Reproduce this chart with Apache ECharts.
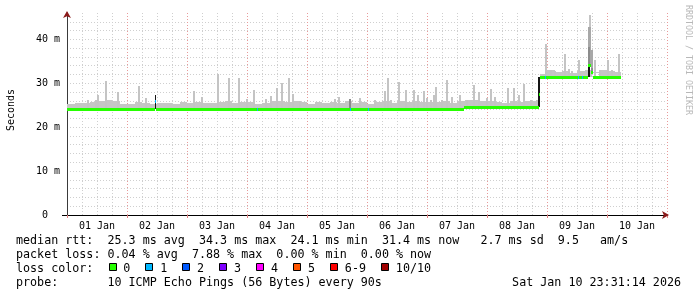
<!DOCTYPE html>
<html><head><meta charset="utf-8">
<script src="https://cdn.jsdelivr.net/npm/echarts@6/dist/echarts.min.js"></script>
<style>html,body{margin:0;padding:0;background:#fff}#c{width:697px;height:297px}</style>
</head><body><div id="c"></div>
<script>
// ---------- data (time in hours since 01 Jan 00:00) ----------
const dayLabels = ['01 Jan','02 Jan','03 Jan','04 Jan','05 Jan','06 Jan','07 Jan','08 Jan','09 Jan','10 Jan'];
const dayLabelHours = [12,36,60,84,108,132,156,180,204,228];
const yTickValues = [0,10,20,30,40];
const yTickLabels = ['0  ','10 m','20 m','30 m','40 m'];

// median rtt (ms) segments: from medianHours[i] to medianHours[i+1]
const medianHours = [0,35.0,35.6,76.0,76.4,113.1,113.5,120.2,120.6,158.7,188.7,189.0,191.2,191.6,204.2,204.6,205.8,206.2,208.4,209.6,210.4,221.6];
const medianValues = [24.2,25.9,24.2,24.2,24.2,24.2,24.2,24.2,24.2,24.5,27.5,31.4,31.4,31.4,31.4,31.4,31.4,31.4,34.2,32.6,31.4];
const medianLoss = [0,1,0,1,0,1,0,1,0,0,0,0,1,0,1,0,1,0,0,0,0];

// low smoke (top of ping spread, ms) in 3 h steps
const baseSmokeStep = 3;
const baseSmokeTops = [
 25.2,25.5,25.6,25.8,25.9,26.1,25.9,25.3,25.3,25.7,
 25.6,25.3,25.4,25.6,25.3,25.7,25.5,25.7,25.4,25.6,
 25.8,25.9,25.6,25.8,25.8,25.3,25.6,26.0,25.9,25.7,
 25.9,25.8,25.3,25.7,25.4,25.8,25.6,25.9,25.4,25.7,
 25.3,25.7,26.0,25.6,25.9,25.7,25.9,25.8,25.7,25.7,
 26.0,25.6,25.9,26.1,26.2,25.9,25.9,25.7,25.6,26.0,
 25.8,25.9,26.0,32.2,33.1,32.6,32.7,32.4,32.8,33.0,
 32.5,33.0,32.7,32.6];

// max ping spikes (light smoke)
const spikeHours = [8.5,11.5,12.5,15.4,20.2,28.7,31.5,50.9,54.0,60.5,
 64.8,68.9,71.9,74.9,79.7,81.4,84.1,85.8,88.7,90.5,
 93.2,107.3,108.7,117.3,123.3,127.1,128.3,129.6,132.7,135.7,
 138.9,140.4,142.7,144.0,145.7,146.7,147.6,150.0,152.0,154.0,
 157.3,160.0,162.7,164.7,168.0,169.7,171.2,176.4,178.7,180.9,
 182.9,185.6,188.0,191.6,193.6,195.2,199.1,200.7,202.0,204.7,
 209.2,211.3,213.0,216.4,218.0,220.7];
const spikeTops = [26.1,26.1,27.4,30.5,28.0,29.3,26.7,28.3,26.9,32.1,
 31.2,31.2,26.4,28.4,26.4,27.0,29.0,30.1,31.2,27.6,
 25.9,26.4,26.9,26.7,26.1,28.2,31.2,26.1,30.2,28.4,
 28.4,27.4,28.2,26.6,26.1,27.4,29.2,26.3,30.7,26.9,
 27.3,26.3,29.5,28.0,26.6,28.7,26.9,29.0,29.0,27.3,
 29.8,26.3,26.2,39.0,33.0,32.8,36.7,33.3,32.7,35.2,
 45.6,35.2,33.0,35.2,33.0,36.7];

// denser smoke layers
const midSmokeHours = [208.9,209.9];
const midSmokeTops = [42.8,37.5];
const darkSmokeHours = [113.3,208.9,209.9];
const darkSmokeTops = [26.5,38.3,33.5];
const blackSmokeHours = [35.3,188.85,208.8];
const blackSmokeLows = [24.2,24.5,31.4];
const blackSmokeTops = [27.4,31.4,34.2];

const lossColors = ['#26ff00','#00b8ff','#0059ff','#7e00ff','#ff00ff','#ff5500','#ff0000','#a10000'];
const lossLabels = ['0','1','2','3','4','5','6-9','10/10'];

const legendRtt = 'median rtt:  25.3 ms avg  34.3 ms max  24.1 ms min  31.4 ms now   2.7 ms sd  9.5   am/s';
const legendLoss = 'packet loss: 0.04 % avg  7.88 % max  0.00 % min  0.00 % now';
const legendProbe = 'probe:       10 ICMP Echo Pings (56 Bytes) every 90s';
const legendDate = 'Sat Jan 10 23:31:14 2026';

// ---------- build ----------
const dataEnd = medianHours[medianHours.length-1];
function medianAt(h){
  for (let i=0;i<medianValues.length;i++){
    if (h>=medianHours[i] && h<medianHours[i+1]) return medianValues[i];
  }
  return medianValues[medianValues.length-1];
}
const baseData = baseSmokeTops.map((t,i)=>{const h0=i*baseSmokeStep;return [h0,Math.min(h0+baseSmokeStep,dataEnd),medianAt(h0),t];});
const spikeData = spikeHours.map((h,i)=>[h-0.4,h+0.4,medianAt(h),spikeTops[i]]);
const midData = midSmokeHours.map((h,i)=>[h-0.5,h+0.5,medianAt(h),midSmokeTops[i]]);
const darkData = darkSmokeHours.map((h,i)=>[h-0.4,h+0.4,medianAt(h),darkSmokeTops[i]]);
const blackData = blackSmokeHours.map((h,i)=>[h-0.3,h+0.3,blackSmokeLows[i],blackSmokeTops[i]]);
const medianData = medianValues.map((v,i)=>[medianHours[i],medianHours[i+1],v,medianLoss[i]]);

function rectSeries(data,color,z){
  return {type:'custom',data,z,silent:true,clip:true,animation:false,
    encode:{x:[0,1],y:[2,3]},
    renderItem(params,api){
      const a=api.coord([api.value(0),api.value(3)]);
      const b=api.coord([api.value(1),api.value(2)]);
      const x=Math.round(a[0]); const w=Math.max(1,Math.round(b[0])-x);
      const y=Math.round(a[1]); const h=Math.max(1,Math.round(b[1])-y);
      return {type:'rect',shape:{x,y,width:w,height:h},style:{fill:color}};
    }};
}
const medianSeries = {type:'custom',data:medianData,z:8,silent:true,clip:true,animation:false,
  encode:{x:[0,1],y:2},
  renderItem(params,api){
    const a=api.coord([api.value(0),api.value(2)]);
    const b=api.coord([api.value(1),api.value(2)]);
    const x=Math.round(a[0]); const w=Math.max(1,Math.round(b[0])-x);
    return {type:'rect',shape:{x,y:Math.round(a[1])-1,width:w,height:3},style:{fill:lossColors[api.value(3)]}};
  }};

const mono='DejaVu Sans Mono';
const minorLine={show:true,lineStyle:{color:'#cfcfcf',type:[1,2],width:1}};
const majorLine={show:true,lineStyle:{color:'#e89a9a',type:[1,2],width:1}};

const graphics=[];
graphics.push({type:'text',x:11,y:110,rotation:Math.PI/2,style:{text:'Seconds',font:'10px '+mono,fill:'#000',align:'center',verticalAlign:'middle'}});
graphics.push({type:'text',x:688,y:60,rotation:-Math.PI/2,style:{text:'RRDTOOL / TOBI OETIKER',font:'8.3px '+mono,fill:'#b8b8b8',align:'center',verticalAlign:'middle'}});
const lf='11.7px '+mono;
graphics.push({type:'text',x:16,y:241,style:{text:legendRtt,font:lf,fill:'#000',verticalAlign:'middle'}});
graphics.push({type:'text',x:16,y:255,style:{text:legendLoss,font:lf,fill:'#000',verticalAlign:'middle'}});
graphics.push({type:'text',x:16,y:269,style:{text:'loss color:',font:lf,fill:'#000',verticalAlign:'middle'}});
graphics.push({type:'text',x:16,y:283,style:{text:legendProbe,font:lf,fill:'#000',verticalAlign:'middle'}});
graphics.push({type:'text',x:681,y:283,style:{text:legendDate,font:lf,fill:'#000',align:'right',verticalAlign:'middle'}});
let lx=108.5;
lossLabels.forEach((lab,i)=>{
  graphics.push({type:'rect',shape:{x:Math.round(lx)+0.5,y:263.5,width:7,height:7},style:{fill:lossColors[i],stroke:'#000',lineWidth:1}});
  graphics.push({type:'text',x:lx+14.7,y:269,style:{text:lab,font:lf,fill:'#000',verticalAlign:'middle'}});
  lx += 14.7 + lab.length*7.04 + 15.2;
});

const option={
  animation:false,
  backgroundColor:'#fff',
  grid:{left:67,right:30,top:13,bottom:82},
  xAxis:[
    {type:'value',position:'bottom',min:0,max:240,interval:6,
     axisLine:{show:true,onZero:false,lineStyle:{color:'#000',width:1}},axisTick:{show:false},axisLabel:{show:false},
     splitLine:Object.assign({showMinLine:false},minorLine)},
    {type:'value',position:'bottom',min:0,max:240,interval:24,
     axisLine:{show:false},axisTick:{show:true,length:3,lineStyle:{color:'#e08080'}},axisLabel:{show:false},
     splitLine:Object.assign({showMinLine:false},majorLine)},
    {type:'value',position:'bottom',min:0,max:240,
     axisLine:{show:true,onZero:false,symbol:['none','arrow'],symbolSize:[6,7],symbolOffset:[0,2],lineStyle:{color:'#8b1a1a',width:0}},
     axisTick:{show:false},splitLine:{show:false},
     axisLabel:{show:true,customValues:dayLabelHours,margin:6,fontFamily:mono,fontSize:10,color:'#000',
       formatter:(v)=>{const i=dayLabelHours.indexOf(v);return i>=0?dayLabels[i]:'';}}}
  ],
  yAxis:[
    {type:'value',position:'left',min:0,max:46,interval:2,
     axisLine:{show:false},axisTick:{show:false},axisLabel:{show:false},
     splitLine:Object.assign({showMinLine:false,showMaxLine:false},minorLine)},
    {type:'value',position:'left',min:0,max:46,interval:10,
     axisLine:{show:true,onZero:false,lineStyle:{color:'#3a3a3a',width:1}},
     axisTick:{show:true,customValues:[0],length:5,lineStyle:{color:'#000'}},
     axisLabel:{show:true,margin:7,fontFamily:mono,fontSize:10,color:'#000',
       formatter:(v)=>{const i=yTickValues.indexOf(v);return i>=0?yTickLabels[i]:'';}},
     splitLine:Object.assign({showMinLine:false,showMaxLine:false},majorLine)},
    {type:'value',position:'left',min:0,max:46,
     axisLine:{show:true,onZero:false,symbol:['none','arrow'],symbolSize:[6,7],symbolOffset:[0,2],lineStyle:{color:'#8b1a1a',width:0}},
     axisTick:{show:false},axisLabel:{show:false},splitLine:{show:false}}
  ],
  series:[
    rectSeries(baseData,'#c6c6c6',3),
    rectSeries(spikeData,'#c4c4c4',4),
    rectSeries(midData,'#a8a8a8',5),
    rectSeries(darkData,'#8c8c8c',6),
    rectSeries(blackData,'#151515',7),
    medianSeries
  ],
  graphic:graphics
};
const chart=echarts.init(document.getElementById('c'),null,{renderer:'canvas',width:697,height:297});
chart.setOption(option);
</script></body></html>
